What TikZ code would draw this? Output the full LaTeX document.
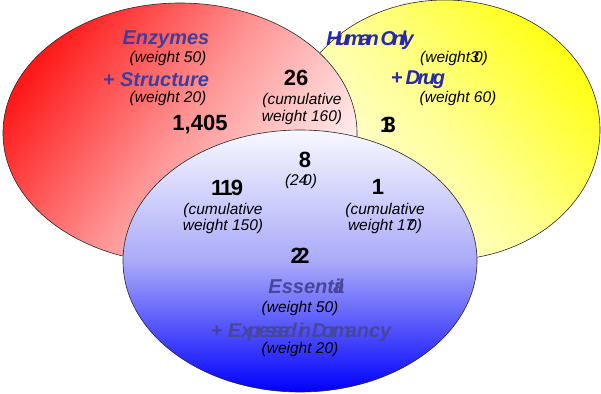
\documentclass[tikz,border=0pt]{standalone}
\usepackage{fontspec}
\setmainfont{Liberation Sans}
\newcommand{\squeeze}[2]{{\addfontfeature{LetterSpace=#1}#2}}
\definecolor{tblue}{RGB}{62,62,160}
\definecolor{hblue}{RGB}{40,40,170}
\definecolor{eblue}{RGB}{70,70,155}
\tikzset{
  venn/.style={draw=black!85, line width=0.6pt},
  title/.style={font=\fontsize{20}{22}\selectfont\bfseries\itshape, inner sep=0pt},
  wt/.style={font=\fontsize{15.5}{16.5}\selectfont\itshape, inner sep=0pt, align=center},
  num/.style={font=\fontsize{22}{24}\selectfont\bfseries, inner sep=0pt}
}
\begin{document}
\begin{tikzpicture}[x=1pt,y=-1pt]
\useasboundingbox (0,0) rectangle (601,393);
% yellow
\shade[venn, top color={rgb,255:red,255;green,255;blue,20}, bottom color={rgb,255:red,255;green,255;blue,240}, middle color={rgb,255:red,255;green,255;blue,150}, shading angle=-50]
  (445,130) ellipse [x radius=155, y radius=130];
% red
\shade[venn, top color={rgb,255:red,255;green,25;blue,25}, bottom color={rgb,255:red,255;green,245;blue,245}, middle color={rgb,255:red,255;green,150;blue,150}, shading angle=55]
  (180,133) ellipse [x radius=177, y radius=130];
% blue
\shade[venn, top color={rgb,255:red,248;green,248;blue,255}, bottom color={rgb,255:red,0;green,0;blue,255}, middle color={rgb,255:red,170;green,170;blue,250}]
  (300,261) ellipse [x radius=177, y radius=131];

% red set
\node[title, text=tblue] (enz) at (166,40) {Enzymes};
\node[wt] (enzw) at (168,58) {(weight 50)};
\node[title, text=tblue] (str) at (156,80) {+ Structure};
\node[wt] (strw) at (168,98) {(weight 20)};
\node[num] (n1405) at (200,125) {1,405};
\node[num] (n26) at (296,78) {26};
\node[wt, font=\fontsize{15.5}{17}\selectfont\itshape] (c160) at (302,109) {(cumulative\\weight 160)};

% yellow set
\node[title, text=hblue] (hum) at (370,40) {\squeeze{-19}{Human Only}};
\node[wt] (humw) at (454,58) {(weight\squeeze{-30}{30})};
\node[title, text=hblue] (drug) at (418,80) {\squeeze{-12}{+ Drug}};
\node[wt] (drugw) at (458,98) {(weight 60)};
\node[num] (n3) at (388,125) {\squeeze{-40}{13}};

% center
\node[num] (n8) at (305,160) {8};
\node[wt] (w240) at (301,181) {(2\squeeze{-28}{40})};

% blue overlaps
\node[num] (n119) at (227,188) {\squeeze{-8}{119}};
\node[wt, font=\fontsize{15.5}{16}\selectfont\itshape] (c150) at (223,218) {(cumulative\\weight 150)};
\node[num] (n1) at (378,187) {1};
\node[wt, font=\fontsize{15.5}{16}\selectfont\itshape] (c170) at (385,218) {(cumulative\\weight 1\squeeze{-40}{70})};

% blue set
\node[num] (n22) at (300,256) {\squeeze{-25}{22}};
\node[title, text=eblue] (ess) at (306,286) {Essent\squeeze{-32}{ial}};
\node[wt] (essw) at (300,308) {(weight 50)};
\node[title, text=eblue] (exp) at (301,332) {+ E\squeeze{-23}{xpressed in Dorma}ncy};
\node[wt] (expw) at (300,349) {(weight 20)};
\end{tikzpicture}
\end{document}
